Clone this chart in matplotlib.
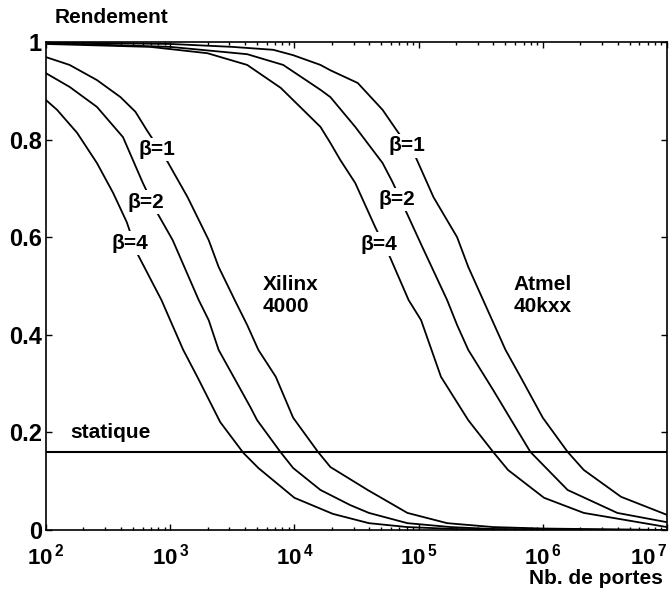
import numpy as np
import matplotlib
matplotlib.use('Agg')
from matplotlib import pyplot as plt
from matplotlib.ticker import LogLocator, NullFormatter

plt.rcParams['font.family'] = ['Liberation Sans', 'DejaVu Sans']
plt.rcParams['font.weight'] = 'bold'
plt.rcParams['mathtext.fontset'] = 'custom'
plt.rcParams['mathtext.rm'] = 'Liberation Sans:bold'
plt.rcParams['mathtext.bf'] = 'Liberation Sans:bold'
plt.rcParams['mathtext.it'] = 'Liberation Sans:bold:italic'

# log10(nb. de portes) / rendement
xil_b1_logn = [2.0, 2.19, 2.41, 2.60, 2.72, 2.81, 2.98, 3.14, 3.31, 3.39, 3.52, 3.62,
               3.71, 3.85, 3.99, 4.19, 4.29, 4.59, 4.91, 5.23, 5.6, 6.0, 7.0]
xil_b1_y = [0.969, 0.953, 0.922, 0.887, 0.857, 0.820, 0.754, 0.682, 0.594, 0.539, 0.471, 0.420,
            0.369, 0.314, 0.230, 0.160, 0.129, 0.082, 0.035, 0.014, 0.006, 0.003, 0.0]

xil_b2_logn = [2.0, 2.19, 2.41, 2.62, 2.78, 2.895, 3.02, 3.23, 3.31, 3.39, 3.51, 3.645,
               3.70, 3.887, 3.99, 4.21, 4.45, 4.60, 4.91, 5.26, 5.6, 6.0, 7.0]
xil_b2_y = [0.936, 0.908, 0.867, 0.805, 0.711, 0.650, 0.594, 0.471, 0.430, 0.369, 0.314, 0.252,
            0.225, 0.160, 0.127, 0.082, 0.051, 0.035, 0.014, 0.006, 0.002, 0.001, 0.0]

xil_b4_logn = [2.0, 2.089, 2.25, 2.41, 2.54, 2.65, 2.74, 2.93, 3.0, 3.105, 3.218, 3.403,
               3.589, 3.71, 4.0, 4.31, 4.60, 4.91, 5.3, 6.0, 7.0]
xil_b4_y = [0.881, 0.861, 0.814, 0.752, 0.691, 0.631, 0.564, 0.471, 0.430, 0.369, 0.314, 0.221,
            0.158, 0.127, 0.066, 0.033, 0.014, 0.006, 0.002, 0.0005, 0.0]

atm_b1_logn = [2.0, 3.0, 3.5, 3.83, 3.99, 4.21, 4.29, 4.51, 4.71, 4.81, 4.98, 5.12,
               5.31, 5.40, 5.52, 5.70, 5.82, 6.00, 6.20, 6.33, 6.63, 7.0]
atm_b1_y = [0.999, 0.996, 0.990, 0.984, 0.973, 0.953, 0.942, 0.916, 0.861, 0.824, 0.762, 0.682,
            0.600, 0.539, 0.471, 0.369, 0.314, 0.230, 0.160, 0.123, 0.068, 0.031]

atm_b2_logn = [2.0, 3.0, 3.62, 3.91, 4.21, 4.29, 4.49, 4.71, 4.79, 4.90, 5.03, 5.23,
               5.31, 5.40, 5.60, 5.90, 6.20, 6.60, 7.0]
atm_b2_y = [0.998, 0.990, 0.975, 0.953, 0.902, 0.887, 0.826, 0.752, 0.713, 0.652, 0.580, 0.471,
            0.420, 0.369, 0.287, 0.160, 0.082, 0.035, 0.016]

atm_b4_logn = [2.0, 2.84, 3.30, 3.62, 3.89, 4.21, 4.29, 4.37, 4.49, 4.65, 4.77, 4.92,
               5.02, 5.18, 5.40, 5.60, 5.72, 6.01, 6.33, 7.0]
atm_b4_y = [0.996, 0.990, 0.977, 0.953, 0.906, 0.826, 0.793, 0.758, 0.711, 0.621, 0.559, 0.471,
            0.430, 0.314, 0.225, 0.160, 0.123, 0.066, 0.035, 0.006]

statique = 0.16

curves = [
    (xil_b1_logn, xil_b1_y), (xil_b2_logn, xil_b2_y), (xil_b4_logn, xil_b4_y),
    (atm_b1_logn, atm_b1_y), (atm_b2_logn, atm_b2_y), (atm_b4_logn, atm_b4_y),
]

fig = plt.figure(figsize=(6.72, 5.91), dpi=100)
ax = fig.add_axes([46/672, 61/591, 621/672, 488/591])

for logn, y in curves:
    ax.plot(10**np.array(logn), y, color='black', lw=1.3)
ax.axhline(statique, color='black', lw=1.5)

ax.set_xscale('log')
ax.set_xlim(1e2, 1e7)
ax.set_ylim(0, 1)

ax.set_xticks([1e2, 1e3, 1e4, 1e5, 1e6, 1e7])
ax.set_xticklabels([r'$10^{\,2}$', r'$10^{\,3}$', r'$10^{\,4}$',
                    r'$10^{\,5}$', r'$10^{\,6}$', r'$10^{\,7}$'])
ax.xaxis.set_minor_locator(LogLocator(base=10, subs=np.arange(2, 10)))
ax.xaxis.set_minor_formatter(NullFormatter())
ax.set_yticks([0, 0.2, 0.4, 0.6, 0.8, 1])
ax.set_yticklabels(['0', '0.2', '0.4', '0.6', '0.8', '1'])

ax.tick_params(which='both', direction='in', top=True, right=True, width=1.0)
ax.tick_params(which='major', length=4)
ax.tick_params(axis='x', which='major', pad=10, labelsize=16)
ax.tick_params(axis='y', which='major', pad=3, labelsize=17)
ax.tick_params(which='minor', length=2.5)
# last decade label sits on the figure edge, keep it inside
ax.get_xticklabels()[-1].set_horizontalalignment('right')
# the "0" label would touch the 10^2 label below it
ax.get_yticklabels()[0].set_verticalalignment('center_baseline')
for s in ax.spines.values():
    s.set_linewidth(1.2)

box = dict(facecolor='white', edgecolor='none', pad=1.5)
ax.text(785, 0.779, r'β=1', fontsize=15, ha='center', va='center', bbox=box)
ax.text(640, 0.672, r'β=2', fontsize=15, ha='center', va='center', bbox=box)
ax.text(476, 0.588, r'β=4', fontsize=15, ha='center', va='center', bbox=box)
ax.text(8.0e4, 0.787, r'β=1', fontsize=15, ha='center', va='center', bbox=box)
ax.text(6.65e4, 0.678, r'β=2', fontsize=15, ha='center', va='center', bbox=box)
ax.text(4.75e4, 0.586, r'β=4', fontsize=15, ha='center', va='center', bbox=box)

ax.text(5.6e3, 0.523, 'Xilinx\n4000', fontsize=15, ha='left', va='top', linespacing=1.2)
ax.text(5.84e5, 0.523, 'Atmel\n40kxx', fontsize=15, ha='left', va='top', linespacing=1.2)
ax.text(156, 0.189, 'statique', fontsize=15, ha='left', va='baseline')

fig.text(55/672, (591-23)/591, 'Rendement', fontsize=15, ha='left', va='baseline')
fig.text(663/672, (591-584)/591, 'Nb. de portes', fontsize=15, ha='right', va='baseline')

fig.savefig('out.png', dpi=100)
